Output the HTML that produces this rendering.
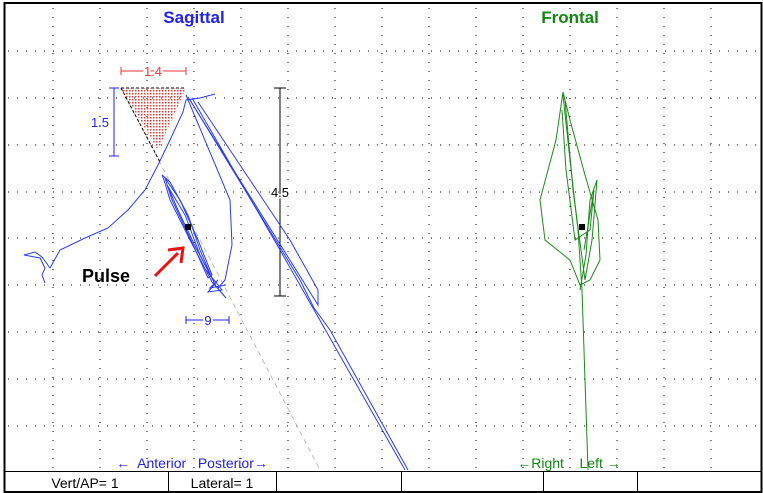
<!DOCTYPE html>
<html><head><style>
body{margin:0;background:#fff;}
svg{display:block;font-family:"Liberation Sans",sans-serif;}
</style></head><body>
<svg width="763" height="493" viewBox="0 0 763 493" xmlns="http://www.w3.org/2000/svg">
<defs>
<pattern id="dots" width="3" height="3" patternUnits="userSpaceOnUse"><rect width="1.5" height="1.5" fill="#e33"/></pattern>
</defs>
<rect width="763" height="493" fill="#fff"/>
<g stroke="#000" stroke-width="1" stroke-dasharray="1,8">
<line x1="53" y1="8" x2="53" y2="470"/><line x1="100" y1="8" x2="100" y2="470"/><line x1="147" y1="8" x2="147" y2="470"/><line x1="194" y1="8" x2="194" y2="470"/><line x1="241" y1="8" x2="241" y2="470"/><line x1="288" y1="8" x2="288" y2="470"/><line x1="335" y1="8" x2="335" y2="470"/><line x1="382" y1="8" x2="382" y2="470"/><line x1="429" y1="8" x2="429" y2="470"/><line x1="476" y1="8" x2="476" y2="470"/><line x1="523" y1="8" x2="523" y2="470"/><line x1="570" y1="8" x2="570" y2="470"/><line x1="617" y1="8" x2="617" y2="470"/><line x1="664" y1="8" x2="664" y2="470"/><line x1="711" y1="8" x2="711" y2="470"/>
<line x1="8" y1="51" x2="760" y2="51"/><line x1="8" y1="98" x2="760" y2="98"/><line x1="8" y1="145" x2="760" y2="145"/><line x1="8" y1="192" x2="760" y2="192"/><line x1="8" y1="238" x2="760" y2="238"/><line x1="8" y1="285" x2="760" y2="285"/><line x1="8" y1="332" x2="760" y2="332"/><line x1="8" y1="379" x2="760" y2="379"/><line x1="8" y1="426" x2="760" y2="426"/>
</g>
<rect x="4.5" y="3" width="757" height="489" fill="none" stroke="#000" stroke-width="2"/>
<line x1="4" y1="471.5" x2="762" y2="471.5" stroke="#000"/>
<g stroke="#000"><line x1="168.5" y1="471" x2="168.5" y2="493"/><line x1="276.5" y1="471" x2="276.5" y2="493"/><line x1="401.5" y1="471" x2="401.5" y2="493"/><line x1="543.5" y1="471" x2="543.5" y2="493"/><line x1="637.5" y1="471" x2="637.5" y2="493"/></g>
<text x="85" y="488" font-size="14" text-anchor="middle">Vert/AP= 1</text>
<text x="222" y="488" font-size="14" text-anchor="middle">Lateral= 1</text>
<text x="194" y="23" font-size="17" font-weight="bold" fill="#2222ee" text-anchor="middle">Sagittal</text>
<text x="570" y="23" font-size="17" font-weight="bold" fill="#118811" text-anchor="middle">Frontal</text>
<text x="192" y="468" font-size="14" fill="#2222ee" text-anchor="middle" xml:space="preserve">←  Anterior   Posterior→</text>
<text x="569" y="468" font-size="14" fill="#118811" text-anchor="middle" xml:space="preserve">←Right    Left →</text>
<polygon points="121,88 186,88 158,150" fill="url(#dots)"/>
<line x1="121" y1="88" x2="186" y2="88" stroke="#000" stroke-dasharray="3,2"/>
<line x1="121" y1="88" x2="320" y2="470" stroke="#bbb" stroke-dasharray="5,4"/>
<line x1="121" y1="88" x2="160" y2="162" stroke="#000" stroke-dasharray="3,2"/>
<g stroke="#e33" fill="none"><line x1="121" y1="71" x2="186" y2="71"/><line x1="121" y1="67" x2="121" y2="75"/><line x1="186" y1="67" x2="186" y2="75"/></g>
<text x="153" y="76" font-size="13" fill="#e33" text-anchor="middle" style="paint-order:stroke" stroke="#fff" stroke-width="4">1.4</text>
<g stroke="#2222ee"><line x1="114" y1="88" x2="114" y2="156"/><line x1="109" y1="88" x2="119" y2="88"/><line x1="109" y1="156" x2="119" y2="156"/></g>
<text x="100" y="127" font-size="13" fill="#2222ee" text-anchor="middle">1.5</text>
<g stroke="#000"><line x1="280" y1="88" x2="280" y2="296"/><line x1="274" y1="88" x2="286" y2="88"/><line x1="274" y1="296" x2="286" y2="296"/></g>
<text x="280" y="197" font-size="13" text-anchor="middle" style="paint-order:stroke" stroke="#fff" stroke-width="3">4.5</text>
<g stroke="#2222ee"><line x1="186" y1="320" x2="229" y2="320"/><line x1="186" y1="316" x2="186" y2="324"/><line x1="229" y1="316" x2="229" y2="324"/></g>
<text x="208" y="325" font-size="13" fill="#2222ee" text-anchor="middle" style="paint-order:stroke" stroke="#fff" stroke-width="4">9</text>
<g fill="none" stroke="#2a3cf0" stroke-width="1">
<path d="M45,283 L42,275 L45,268 L40,258 L24,255 L35,252 L42,257 L50,268 L60,250 L85,238 L108,228 L128,210 L145,190 L158,165 L170,140 L183,112 L186,100 L200,98 L215,94"/>
<path d="M186,95 L230,200 L232,245 L225,280 L218,288"/>
<path d="M188,97 L318,305 L318,290 L290,240 L198,102"/>
<path d="M190,100 L300,280 L314,308 L330,330 L408,470"/>
<path d="M192,98 L280,250 L405,470"/>
<path d="M162,175 L170,182 L188,215 L200,250 L215,285 L226,298 L212,282 L190,240 L170,200 L164,180 Z"/>
<path d="M165,178 L180,200 L198,240 L212,275 L208,278 L190,238 L172,200 Z"/>
<path d="M167,185 L185,215 L200,255 L214,282 L196,248 L178,210 Z"/>
<path d="M206,270 L222,290 L208,292 L218,280 L210,288 L226,285"/>
</g>
<rect x="185" y="224" width="6" height="6" fill="#000"/>
<text x="82" y="282" font-size="18" font-weight="bold">Pulse</text>
<g stroke="#ee1111" stroke-width="3" fill="#ee1111"><line x1="155" y1="276" x2="178" y2="253"/><polyline points="168,250 183,248 181,263" fill="none"/></g>
<g fill="none" stroke="#1a8a1a" stroke-width="1">
<path d="M563,92 L556,140 L540,200 L545,240 L570,260 L580,285 L590,280 L600,260 L598,220 L585,175 L570,120 L563,92"/>
<path d="M563,95 L570,160 L578,230 L582,290 L588,470"/>
<path d="M565,100 L573,190 L585,280 L592,240 L597,180 L590,200 L586,255 L580,290"/>
<path d="M562,110 L566,170 L575,240 L590,230 L594,190 L584,250"/>
</g>
<rect x="579" y="224" width="6" height="6" fill="#000"/>
</svg>
</body></html>
